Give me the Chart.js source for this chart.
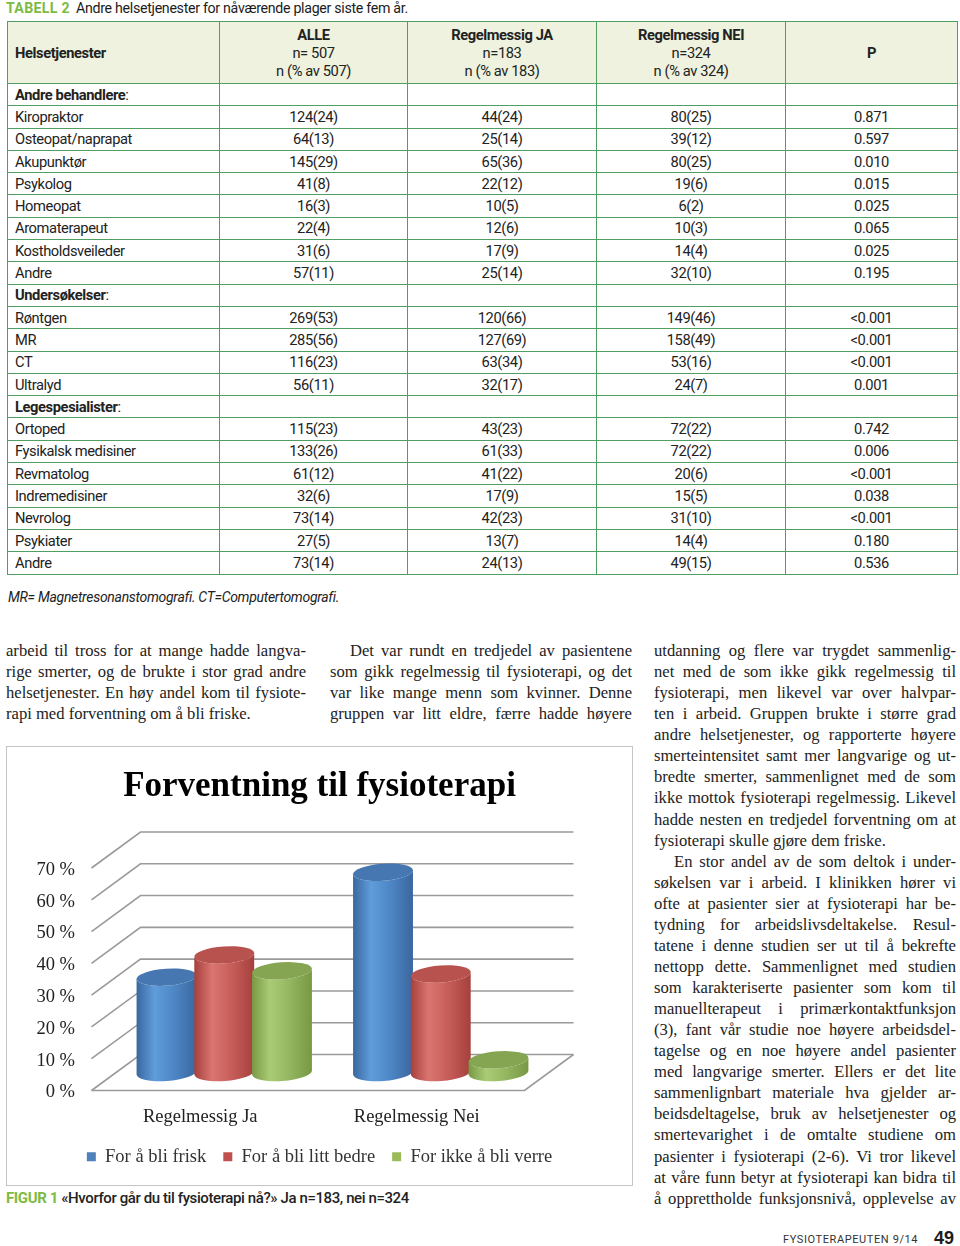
<!DOCTYPE html>
<html lang="no">
<head>
<meta charset="utf-8">
<title>Forventning til fysioterapi</title>
<script src="https://cdn.jsdelivr.net/npm/chart.js@4.4.1/dist/chart.umd.min.js"></script>
<style>
  body { margin: 0; width: 960px; height: 1246px; position: relative; background: #fff; color: #1c1c1c; overflow: hidden; }
  .narrow { font-family: Roboto, "Liberation Sans", sans-serif; }
  .abs { position: absolute; }
  #tabTitle { left: 6px; top: 0px; font-size: 14.2px; line-height: 16px; letter-spacing: -0.3px; white-space: nowrap; }
  #tabTitle b { color: #7dbb42; letter-spacing: 0.3px; margin-right: 6px; }
  table { position: absolute; left: 7px; top: 21px; width: 950px; border-collapse: collapse; table-layout: fixed; font-size: 14.7px; letter-spacing: -0.4px; color: #222; }
  td { border: 1.5px solid #4f9f63; padding: 0 7px; height: 21.3px; line-height: 16px; text-align: center; white-space: nowrap; }
  td.name { text-align: left; }
  tr.head td { background: #eef2de; height: 61px; line-height: 18px; }
  #note { left: 8px; top: 589px; font-size: 14px; letter-spacing: -0.3px; font-style: italic; color: #222; }
  .col { font-family: "Liberation Serif", serif; font-size: 16.6px; line-height: 21.07px; color: #222; }
  .col div { white-space: nowrap; text-align: justify; text-align-last: justify; height: 21.07px; }
  .col div.l { text-align-last: left; }
  .col div.i { text-indent: 20px; }
  #box { left: 6px; top: 746px; width: 625px; height: 438px; border: 1px solid #c4c4c4; }
  #chart { position: absolute; left: 6px; top: 746px; }
  #caption { left: 6px; top: 1189px; font-size: 15px; letter-spacing: -0.4px; white-space: nowrap; color: #222; font-weight: 500; }
  #caption b { color: #7dbb42; }
  #footer { left: 783px; top: 1233px; font-size: 11px; letter-spacing: 0.6px; white-space: nowrap; color: #333; }
  #page { left: 934px; top: 1228px; font-family: "Liberation Sans", sans-serif; font-size: 18px; font-weight: bold; }
</style>
</head>
<body>
<div id="tabTitle" class="abs narrow"><b>TABELL 2</b>Andre helsetjenester for nåværende plager siste fem år.</div>
<table id="tab" class="narrow"></table>
<div id="note" class="abs narrow">MR= Magnetresonanstomografi. CT=Computertomografi.</div>

<div id="c1" class="abs col" style="left:6px;top:640px;width:300px"></div>
<div id="c2" class="abs col" style="left:330px;top:640px;width:302px"></div>
<div id="c3" class="abs col" style="left:654px;top:640px;width:302px"></div>

<div id="box" class="abs"></div>
<canvas id="chart" width="627" height="440"></canvas>
<div id="caption" class="abs narrow"><b>FIGUR 1</b> «Hvorfor går du til fysioterapi nå?» Ja n=183, nei n=324</div>
<div id="footer" class="abs narrow">FYSIOTERAPEUTEN 9/14</div>
<div id="page" class="abs">49</div>

<script>
// chart data
const categories = ["Regelmessig Ja", "Regelmessig Nei"];
const seriesNames = ["For å bli frisk", "For å bli litt bedre", "For ikke å bli verre"];
const friskValues = [30, 63];
const bedreValues = [37, 31];
const verreValues = [32, 4];
const yTicks = [0, 10, 20, 30, 40, 50, 60, 70];
const seriesColors = ["#4f81bd", "#c0504d", "#9bbb59"];

// table data
const headCells = [
  "<b>Helsetjenester</b>",
  "<b>ALLE</b><br>n= 507<br>n (% av 507)",
  "<b>Regelmessig JA</b><br>n=183<br>n (% av 183)",
  "<b>Regelmessig NEI</b><br>n=324<br>n (% av 324)",
  "<b>P</b>"
];
const tableRows = [
  ["Andre behandlere"],
  ["Kiropraktor", "124(24)", "44(24)", "80(25)", "0.871"],
  ["Osteopat/naprapat", "64(13)", "25(14)", "39(12)", "0.597"],
  ["Akupunktør", "145(29)", "65(36)", "80(25)", "0.010"],
  ["Psykolog", "41(8)", "22(12)", "19(6)", "0.015"],
  ["Homeopat", "16(3)", "10(5)", "6(2)", "0.025"],
  ["Aromaterapeut", "22(4)", "12(6)", "10(3)", "0.065"],
  ["Kostholdsveileder", "31(6)", "17(9)", "14(4)", "0.025"],
  ["Andre", "57(11)", "25(14)", "32(10)", "0.195"],
  ["Undersøkelser"],
  ["Røntgen", "269(53)", "120(66)", "149(46)", "<0.001"],
  ["MR", "285(56)", "127(69)", "158(49)", "<0.001"],
  ["CT", "116(23)", "63(34)", "53(16)", "<0.001"],
  ["Ultralyd", "56(11)", "32(17)", "24(7)", "0.001"],
  ["Legespesialister"],
  ["Ortoped", "115(23)", "43(23)", "72(22)", "0.742"],
  ["Fysikalsk medisiner", "133(26)", "61(33)", "72(22)", "0.006"],
  ["Revmatolog", "61(12)", "41(22)", "20(6)", "<0.001"],
  ["Indremedisiner", "32(6)", "17(9)", "15(5)", "0.038"],
  ["Nevrolog", "73(14)", "42(23)", "31(10)", "<0.001"],
  ["Psykiater", "27(5)", "13(7)", "14(4)", "0.180"],
  ["Andre", "73(14)", "24(13)", "49(15)", "0.536"]
];
const colWidths = [212, 188, 189, 189, 172];

// text columns, one entry per printed line ("l" = last line of paragraph, "i" = indent)
const col1Lines = [
  ["arbeid til tross for at mange hadde langva-"],
  ["rige smerter, og de brukte i stor grad andre"],
  ["helsetjenester. En høy andel kom til fysiote-"],
  ["rapi med forventning om å bli friske.", "l"]
];
const col2Lines = [
  ["Det var rundt en tredjedel av pasientene", "i"],
  ["som gikk regelmessig til fysioterapi, og det"],
  ["var like mange menn som kvinner. Denne"],
  ["gruppen var litt eldre, færre hadde høyere"]
];
const col3Lines = [
  ["utdanning og flere var trygdet sammenlig-"],
  ["net med de som ikke gikk regelmessig til"],
  ["fysioterapi, men likevel var over halvpar-"],
  ["ten i arbeid. Gruppen brukte i større grad"],
  ["andre helsetjenester, og rapporterte høyere"],
  ["smerteintensitet samt mer langvarige og ut-"],
  ["bredte smerter, sammenlignet med de som"],
  ["ikke mottok fysioterapi regelmessig. Likevel"],
  ["hadde nesten en tredjedel forventning om at"],
  ["fysioterapi skulle gjøre dem friske.", "l"],
  ["En stor andel av de som deltok i under-", "i"],
  ["søkelsen var i arbeid. I klinikken hører vi"],
  ["ofte at pasienter sier at fysioterapi har be-"],
  ["tydning for arbeidslivsdeltakelse. Resul-"],
  ["tatene i denne studien ser ut til å bekrefte"],
  ["nettopp dette. Sammenlignet med studien"],
  ["som karakteriserte pasienter som kom til"],
  ["manuellterapeut i primærkontaktfunksjon"],
  ["(3), fant vår studie noe høyere arbeidsdel-"],
  ["tagelse og en noe høyere andel pasienter"],
  ["med langvarige smerter. Ellers er det lite"],
  ["sammenlignbart materiale hva gjelder ar-"],
  ["beidsdeltagelse, bruk av helsetjenester og"],
  ["smertevarighet i de omtalte studiene om"],
  ["pasienter i fysioterapi (2-6). Vi tror likevel"],
  ["at våre funn betyr at fysioterapi kan bidra til"],
  ["å opprettholde funksjonsnivå, opplevelse av"]
];

// build table
const tab = document.getElementById("tab");
let html = "<colgroup>" + colWidths.map(w => `<col style="width:${w}px">`).join("") + "</colgroup>";
html += '<tr class="head">' + headCells.map((c, i) => `<td class="${i === 0 ? 'name' : ''}">${c}</td>`).join("") + "</tr>";
tableRows.forEach(r => {
  if (r.length === 1) {
    html += `<tr><td class="name"><b>${r[0]}</b>:</td><td></td><td></td><td></td><td></td></tr>`;
  } else {
    html += "<tr>" + r.map((c, i) => `<td class="${i === 0 ? 'name' : ''}">${c.replace("<", "&lt;")}</td>`).join("") + "</tr>";
  }
});
tab.innerHTML = html;

function fillColumn(id, lines) {
  document.getElementById(id).innerHTML = lines.map(l => `<div class="${l[1] || ''}">${l[0]}</div>`).join("");
}
fillColumn("c1", col1Lines);
fillColumn("c2", col2Lines);
fillColumn("c3", col3Lines);

// shading for the cylinders
const shades = [
  {dark: "#3a679f", light: "#5f9cda", mid: "#4f88c7", top: "#4677b1"},
  {dark: "#a5403d", light: "#da7571", mid: "#c95f5b", top: "#b8524e"},
  {dark: "#789844", light: "#abcc76", mid: "#96b862", top: "#86a553"}
];
const depthX = 24.5, depthY = 18;

function drawCylinder(ctx, bar, s) {
  const {x, y, base, width} = bar.getProps(["x", "y", "base", "width"], true);
  const rx = width / 2, ry = 8.5, rot = -0.07;
  const ex = rx * Math.cos(rot), ey = rx * Math.sin(rot);
  const g = ctx.createLinearGradient(x - rx, 0, x + rx, 0);
  g.addColorStop(0, s.dark);
  g.addColorStop(0.3, s.light);
  g.addColorStop(0.6, s.mid);
  g.addColorStop(1, s.dark);
  ctx.beginPath();
  ctx.moveTo(x - ex, y - ey);
  ctx.lineTo(x - ex, base - ey);
  ctx.ellipse(x, base, rx, ry, rot, Math.PI, 0, true);
  ctx.lineTo(x + ex, y + ey);
  ctx.ellipse(x, y, rx, ry, rot, 0, Math.PI, false);
  ctx.closePath();
  ctx.fillStyle = g;
  ctx.fill();
  ctx.beginPath();
  ctx.ellipse(x, y, rx, ry, rot, 0, Math.PI * 2);
  ctx.fillStyle = s.top;
  ctx.fill();
}

const walls3d = {
  id: "walls3d",
  beforeDatasetsDraw(chart) {
    const {ctx, chartArea: a, scales: {y}} = chart;
    ctx.save();
    ctx.strokeStyle = "#9a9a9a";
    ctx.lineWidth = 1.6;
    yTicks.forEach(v => {
      const py = y.getPixelForValue(v);
      ctx.beginPath();
      ctx.moveTo(a.left - depthX, py + depthY);
      ctx.lineTo(a.left + depthX, py - depthY);
      ctx.lineTo(a.right + depthX, py - depthY);
      ctx.stroke();
    });
    const p0 = y.getPixelForValue(0);
    ctx.beginPath();
    ctx.moveTo(a.left - depthX, p0 + depthY);
    ctx.lineTo(a.right - depthX, p0 + depthY);
    ctx.lineTo(a.right + depthX, p0 - depthY);
    ctx.stroke();
    chart.data.datasets.forEach((ds, i) => {
      chart.getDatasetMeta(i).data.forEach(bar => drawCylinder(ctx, bar, shades[i]));
    });
    ctx.restore();
    return false;
  }
};

const serif = "Liberation Serif";
new Chart(document.getElementById("chart"), {
  type: "bar",
  data: {
    labels: categories,
    datasets: [
      {label: seriesNames[0], data: friskValues, backgroundColor: seriesColors[0], borderWidth: 0},
      {label: seriesNames[1], data: bedreValues, backgroundColor: seriesColors[1], borderWidth: 0},
      {label: seriesNames[2], data: verreValues, backgroundColor: seriesColors[2], borderWidth: 0}
    ]
  },
  options: {
    responsive: false,
    animation: false,
    layout: {padding: {top: 0, left: 0, right: 0, bottom: 10}},
    datasets: {bar: {categoryPercentage: 0.8, barPercentage: 1.04}},
    plugins: {
      title: {
        display: true,
        text: "Forventning til fysioterapi",
        color: "#000",
        font: {family: serif, size: 35, weight: "bold"},
        padding: {top: 20, bottom: 42}
      },
      legend: {
        position: "bottom",
        labels: {boxWidth: 9, boxHeight: 9, padding: 17, color: "#333", font: {family: serif, size: 18.5}}
      },
      tooltip: {enabled: false}
    },
    scales: {
      x: {
        grid: {display: false, drawTicks: false},
        border: {display: false},
        ticks: {padding: 35, labelOffset: -24, color: "#222", font: {family: serif, size: 18.5, lineHeight: 1}},
        afterFit: s => { s.height = 58; }
      },
      y: {
        min: 0,
        max: 70,
        grid: {display: false, drawTicks: false},
        border: {display: false},
        ticks: {stepSize: 10, padding: 41, labelOffset: 20, color: "#222", font: {family: serif, size: 18.5},
          callback: v => v + " %"},
        afterFit: s => { s.width = 110; }
      },
      y2: {
        position: "right",
        grid: {display: false, drawTicks: false},
        border: {display: false},
        ticks: {display: false},
        afterFit: s => { s.width = 84; }
      }
    }
  },
  plugins: [walls3d]
});
</script>
</body>
</html>
